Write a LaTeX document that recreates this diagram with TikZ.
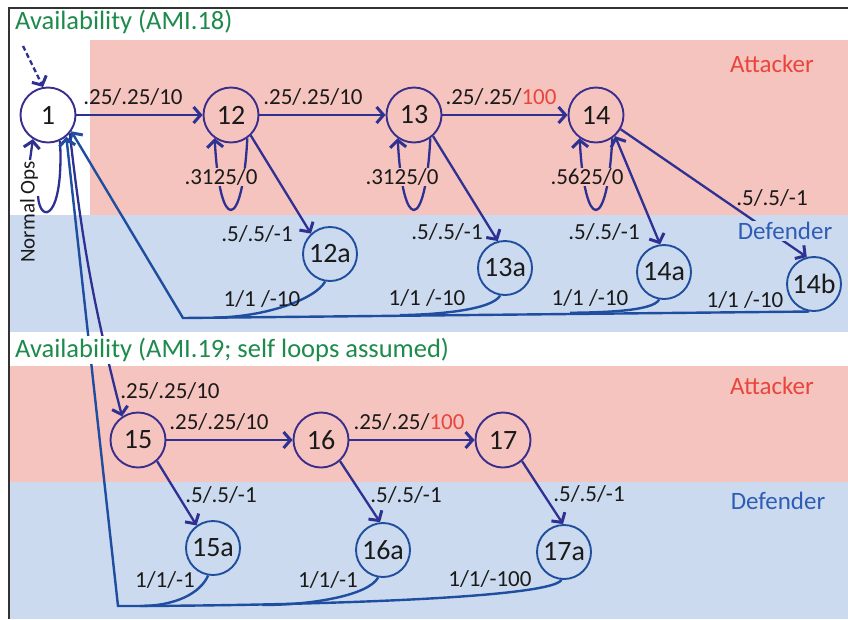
\documentclass[tikz,border=0pt]{standalone}
\usepackage{fontspec}
\setmainfont{Carlito}
\usetikzlibrary{arrows.meta}
\definecolor{pinkbg}{HTML}{F6C4BF}
\definecolor{bluebg}{HTML}{CBDAEE}
\definecolor{edgec}{HTML}{2E3192}
\definecolor{attc}{HTML}{3A2E8C}
\definecolor{defc}{HTML}{1F4E9E}
\definecolor{retc}{HTML}{1F4DA0}
\definecolor{titlec}{HTML}{1E8A4C}
\definecolor{redc}{HTML}{E8453C}
\definecolor{defblue}{HTML}{2F5DB5}
\definecolor{framec}{HTML}{333333}
\definecolor{txtc}{HTML}{1A1A1A}
\begin{document}
\begin{tikzpicture}[x=1pt,y=1pt,
  anode/.style={circle, draw=attc, line width=1.9pt, minimum size=55pt, inner sep=0pt, text=txtc, font=\fontsize{28}{30}\selectfont},
  dnode/.style={circle, draw=defc, line width=1.9pt, minimum size=54pt, inner sep=0pt, text=txtc, font=\fontsize{28}{30}\selectfont},
  tip/.style={-{Straight Barb[length=7pt,width=16pt,line width=3pt]}},
  conn/.style={draw=edgec, line width=2.3pt, tip},
  plain/.style={draw=edgec, line width=2.3pt},
  ret/.style={draw=retc, line width=2.4pt},
  retarr/.style={ret, tip},
  lbl/.style={font=\fontsize{23}{25}\selectfont, inner sep=1pt, text=txtc},
  ttl/.style={font=\fontsize{26.5}{29}\selectfont, text=titlec, anchor=west, inner sep=1pt},
  side/.style={font=\fontsize{25}{28}\selectfont, inner sep=1pt}
]
\useasboundingbox (0,0) rectangle (848,-619);
% backgrounds
\fill[white] (0,0) rectangle (848,-619);
\fill[pinkbg] (90,-40) rectangle (848,-215);
\fill[bluebg] (10,-215) rectangle (848,-332);
\fill[pinkbg] (10,-366) rectangle (848,-482);
\fill[bluebg] (10,-482) rectangle (848,-619);
\draw[framec, line width=2.5pt] (9,-619) -- (9,-8) -- (848,-8);

% nodes
\node[anode, fill=white] (n1) at (48,-115) {1};
\node[anode] (n12) at (231,-115) {12};
\node[anode] (n13) at (414,-115) {13};
\node[anode] (n14) at (596,-115) {14};
\node[dnode] (n12a) at (330,-254) {12a};
\node[dnode] (n13a) at (505,-268) {13a};
\node[dnode] (n14a) at (664,-272) {14a};
\node[dnode] (n14b) at (814,-284) {14b};
\node[anode] (n15) at (138,-440) {15};
\node[anode] (n16) at (321,-440) {16};
\node[anode] (n17) at (503,-440) {17};
\node[dnode] (n15a) at (213,-548) {15a};
\node[dnode] (n16a) at (383,-550) {16a};
\node[dnode] (n17a) at (564,-552) {17a};

% helper coordinates
\coordinate (dstart) at (23,-46);
\coordinate (lpA) at (38,-196);
\coordinate (lpB) at (30,-160);
\coordinate (c1) at (183,-318);
\coordinate (c2) at (118,-606);
\coordinate (m12) at (215,-317.6);
\coordinate (m13) at (400,-315.1);
\coordinate (m14a) at (570,-312.8);
\coordinate (m15) at (140,-606);
\coordinate (m16) at (262,-605);

% start arrow and normal-ops loop
\draw[conn, dash pattern=on 5pt off 3pt] (dstart) -- (n1.100);
\draw[plain] (n1.-65) .. controls (64,-220) and (40,-225) .. (lpA);
\draw[conn] (lpB) -- (n1.-122);

% attacker chain (top)
\draw[conn] (n1) -- (n12);
\draw[conn] (n12) -- (n13);
\draw[conn] (n13) -- (n14);
\draw[conn] (n12.-55) .. controls +(-5,-95) and +(5,-95) .. (n12.-125);
\draw[conn] (n13.-55) .. controls +(-5,-95) and +(5,-95) .. (n13.-125);
\draw[conn] (n14.-55) .. controls +(-5,-95) and +(5,-95) .. (n14.-125);
\draw[conn] (n12.-46) -- (n12a.133);
\draw[conn] (n13.-48) -- (n13a.105);
\draw[conn, {Straight Barb[length=7pt,width=16pt,line width=3pt]}-{Straight Barb[length=7pt,width=16pt,line width=3pt]}] (n14.-48) -- (n14a.98);
\draw[conn] (n14.-30) -- (n14b.105);

% returns (top)
\draw[retarr] (n14b.-100) -- (c1) -- (n1.-35);
\draw[ret] (n14a.-100) .. controls +(-6,-12) and +(30,0.4) .. (m14a);
\draw[ret] (n13a.-100) .. controls +(-8,-14) and +(40,0.5) .. (m13);
\draw[ret] (n12a.-100) .. controls +(-10,-18) and +(50,0.7) .. (m12);

% lower chain
\draw[conn] (n1.-40) to[bend right=4] (n15.124);
\draw[conn] (n15) -- (n16);
\draw[conn] (n16) -- (n17);
\draw[conn] (n15.-48) -- (n15a.126);
\draw[conn] (n16.-48) -- (n16a.96);
\draw[conn] (n17.-48) -- (n17a.92);

% returns (bottom)
\draw[retarr] (n17a.-95) .. controls +(-12,-20) and +(150,0) .. (c2) -- (n1.-50);
\draw[ret] (n16a.-100) .. controls +(-10,-18) and +(50,0) .. (m16);
\draw[ret] (n15a.-100) .. controls +(-8,-18) and +(35,0) .. (m15);

% titles and side labels
\node[ttl] (t1) at (14,-22) {Availability (AMI.18)};
\node[ttl, fill=white, inner ysep=2pt] (t2) at (14,-350) {Availability (AMI.19; self loops assumed)};
\node[side, text=redc] (att1) at (772,-64) {Attacker};
\node[side, text=defblue, fill=bluebg] (def1) at (785,-231) {Defender};
\node[side, text=redc] (att2) at (772,-386) {Attacker};
\node[side, text=defblue] (def2) at (778,-501) {Defender};
\node[font=\fontsize{21}{23}\selectfont, rotate=90, text=txtc, inner sep=1pt] (nops) at (29,-212) {Normal Ops};

% edge labels (top)
\node[lbl] (l1) at (133,-97) {.25/.25/10};
\node[lbl] (l2) at (313,-97) {.25/.25/10};
\node[lbl] (l3) at (501,-97) {.25/.25/\textcolor{redc}{100}};
\node[lbl, fill=pinkbg] (lp12) at (221,-177) {.3125/0};
\node[lbl, fill=pinkbg] (lp13) at (402,-177) {.3125/0};
\node[lbl, fill=pinkbg] (lp14) at (587,-177) {.5625/0};
\node[lbl] (la12) at (257,-234) {.5/.5/-1};
\node[lbl] (la13) at (447,-232) {.5/.5/-1};
\node[lbl] (la14) at (604,-232) {.5/.5/-1};
\node[lbl] (lb14) at (772,-198) {.5/.5/-1};
\node[lbl] (r12) at (262,-299) {1/1 /-10};
\node[lbl] (r13) at (427,-298) {1/1 /-10};
\node[lbl] (r14a) at (590,-298) {1/1 /-10};
\node[lbl] (r14b) at (745,-300) {1/1 /-10};

% edge labels (bottom)
\node[lbl] (l15) at (170,-391) {.25/.25/10};
\node[lbl] (l16) at (219,-422) {.25/.25/10};
\node[lbl] (l17) at (409,-422) {.25/.25/\textcolor{redc}{100}};
\node[lbl] (la15) at (221,-495) {.5/.5/-1};
\node[lbl] (la16) at (406,-495) {.5/.5/-1};
\node[lbl] (la17) at (589,-494) {.5/.5/-1};
\node[lbl] (r15) at (165,-580) {1/1/-1};
\node[lbl] (r16) at (328,-580) {1/1/-1};
\node[lbl] (r17) at (490,-579) {1/1/-100};
\end{tikzpicture}
\end{document}
